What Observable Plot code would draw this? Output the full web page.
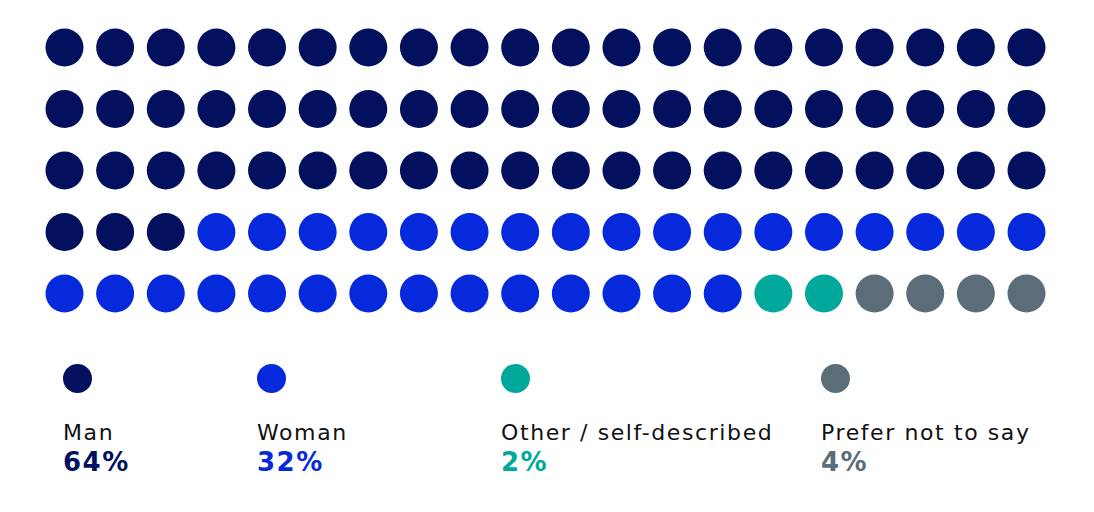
<!DOCTYPE html>
<html>
<head>
<meta charset="utf-8">
<script src="https://cdn.jsdelivr.net/npm/d3@7"></script>
<script src="https://cdn.jsdelivr.net/npm/@observablehq/plot@0.6"></script>
<style>
  html, body { margin: 0; padding: 0; background: #fff; }
  body { width: 1094px; height: 512px; position: relative; overflow: hidden; font-family: "DejaVu Sans", sans-serif; }
  #legend { position: relative; height: 172px; }
  .item { position: absolute; top: 0; }
  .swatch { position: absolute; top: 24px; left: 0; width: 29px; height: 29px; border-radius: 50%; }
  .label { position: absolute; top: 82px; left: 0; white-space: nowrap; font-size: 22px; line-height: 22px; height: 22px; color: #111; letter-spacing: 1.6px; }
  .pct { position: absolute; top: 109px; left: 0; white-space: nowrap; font-size: 26px; font-weight: bold; line-height: 26px; height: 26px; letter-spacing: 1.5px; }
</style>
</head>
<body>
<div id="chart"></div>
<div id="legend"></div>
<script>
const categories = ["Man", "Woman", "Other / self-described", "Prefer not to say"];
const dotCounts = [63, 31, 2, 4];
const percentLabels = ["64%", "32%", "2%", "4%"];
const colors = ["#03105E", "#0529DB", "#00A99C", "#5C6D7A"];
const columns = 20;
const rows = 5;
const legendLeft = [63, 257, 501, 821];

const cells = [];
categories.forEach((c, i) => {
  for (let k = 0; k < dotCounts[i]; k++) cells.push({category: c});
});
cells.forEach((d, i) => { d.col = i % columns; d.row = Math.floor(i / columns); });

const plot = Plot.plot({
  width: 1094,
  height: 340,
  margin: 0,
  x: {type: "point", domain: d3.range(columns), range: [64, 1026], padding: 0, round: false, axis: null},
  y: {type: "point", domain: d3.range(rows), range: [47, 293], padding: 0, round: false, axis: null},
  color: {domain: categories, range: colors},
  marks: [
    Plot.dot(cells, {x: "col", y: "row", r: 19, fill: "category", stroke: null})
  ]
});
document.getElementById("chart").appendChild(plot);

const legend = document.getElementById("legend");
categories.forEach((c, i) => {
  const item = document.createElement("div");
  item.className = "item";
  item.style.left = legendLeft[i] + "px";
  item.innerHTML = `<div class="swatch" style="background:${colors[i]}"></div>
    <div class="label">${c}</div>
    <div class="pct" style="color:${colors[i]}">${percentLabels[i]}</div>`;
  legend.appendChild(item);
});
</script>
</body>
</html>
